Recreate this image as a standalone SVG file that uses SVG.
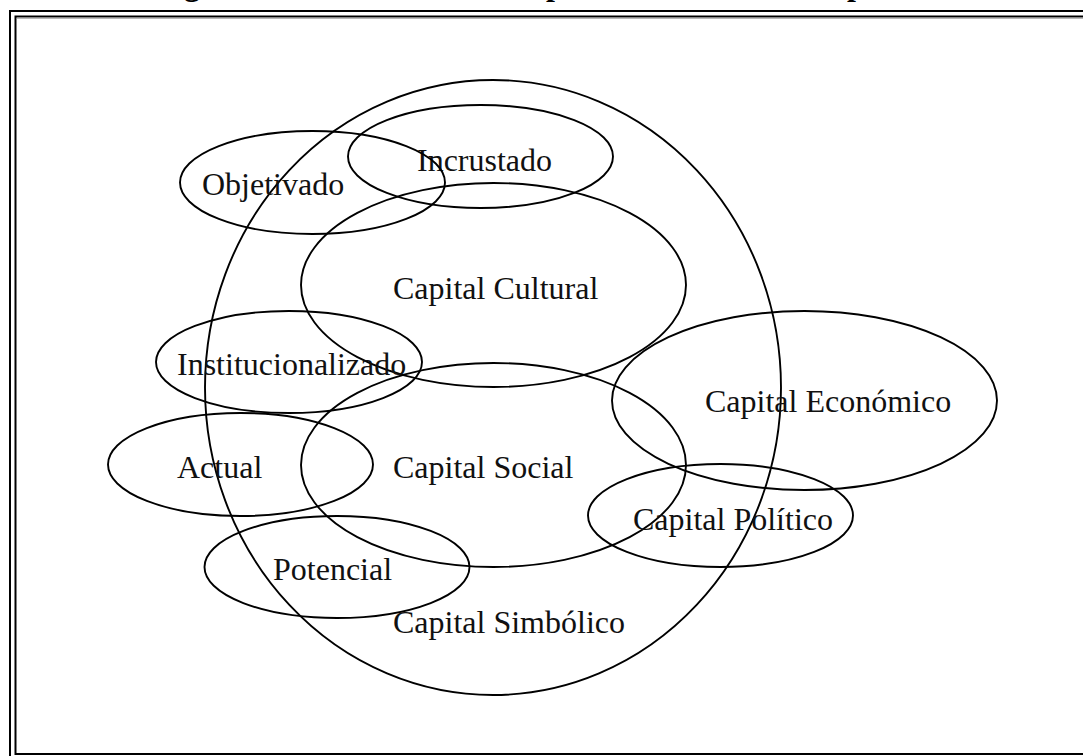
<svg xmlns="http://www.w3.org/2000/svg" width="1083" height="756" viewBox="0 0 1083 756">
  <style>
    .ring { fill: none; stroke: #000; stroke-width: 1.9; }
    .lbl { font-family: "Liberation Serif", "Times New Roman", serif; font-size: 32px; fill: #111; }
    .ttl { font-family: "Liberation Serif", "Times New Roman", serif; font-size: 32px; font-weight: bold; fill: #000; }
    .frame { fill: none; stroke: #000; stroke-width: 2; }
  </style>
  <rect width="1083" height="756" fill="#fff"/>

  <!-- heading line, mostly above the page edge -->
  <text class="ttl" y="-5.5"><tspan x="184">g</tspan><tspan x="546">p</tspan><tspan x="847">p</tspan></text>

  <!-- double frame -->
  <g id="frame">
    <path class="frame" d="M1083,11 H10 V756"/>
    <path class="frame" d="M1083,16.5 H15.5 V754 H1083"/>
    <path d="M1083,18.2 H17" stroke="#999" stroke-width="1" fill="none"/>
  </g>

  <g id="capital-simbolico">
    <ellipse class="ring" cx="493" cy="387.5" rx="288" ry="307.5"/>
    <text class="lbl" x="393" y="633">Capital Simbólico</text>
  </g>

  <g id="capital-cultural">
    <ellipse class="ring" cx="493.5" cy="285" rx="192.5" ry="102"/>
    <text class="lbl" x="393" y="299">Capital Cultural</text>
  </g>

  <g id="capital-social">
    <ellipse class="ring" cx="493.5" cy="465" rx="192.5" ry="102"/>
    <text class="lbl" x="393" y="478">Capital Social</text>
  </g>

  <g id="capital-economico">
    <ellipse class="ring" cx="804.5" cy="400.5" rx="192.5" ry="89.5"/>
    <text class="lbl" x="705" y="412">Capital Económico</text>
  </g>

  <g id="capital-politico">
    <ellipse class="ring" cx="720.5" cy="515.5" rx="132.5" ry="51.5"/>
    <text class="lbl" x="633" y="530">Capital Político</text>
  </g>

  <g id="incrustado">
    <ellipse class="ring" cx="480.5" cy="156.5" rx="132.5" ry="51.5"/>
    <text class="lbl" x="417" y="171">Incrustado</text>
  </g>

  <g id="objetivado">
    <ellipse class="ring" cx="312.5" cy="182.5" rx="132.5" ry="51.5"/>
    <text class="lbl" x="202" y="195">Objetivado</text>
  </g>

  <g id="institucionalizado">
    <ellipse class="ring" cx="289" cy="362" rx="133" ry="51"/>
    <text class="lbl" x="177" y="375">Institucionalizado</text>
  </g>

  <g id="actual">
    <ellipse class="ring" cx="240.5" cy="464.5" rx="132.5" ry="51.5"/>
    <text class="lbl" x="177" y="478">Actual</text>
  </g>

  <g id="potencial">
    <ellipse class="ring" cx="337" cy="567" rx="132.5" ry="51"/>
    <text class="lbl" x="273" y="580">Potencial</text>
  </g>

  <g id="connectors"></g>
</svg>
